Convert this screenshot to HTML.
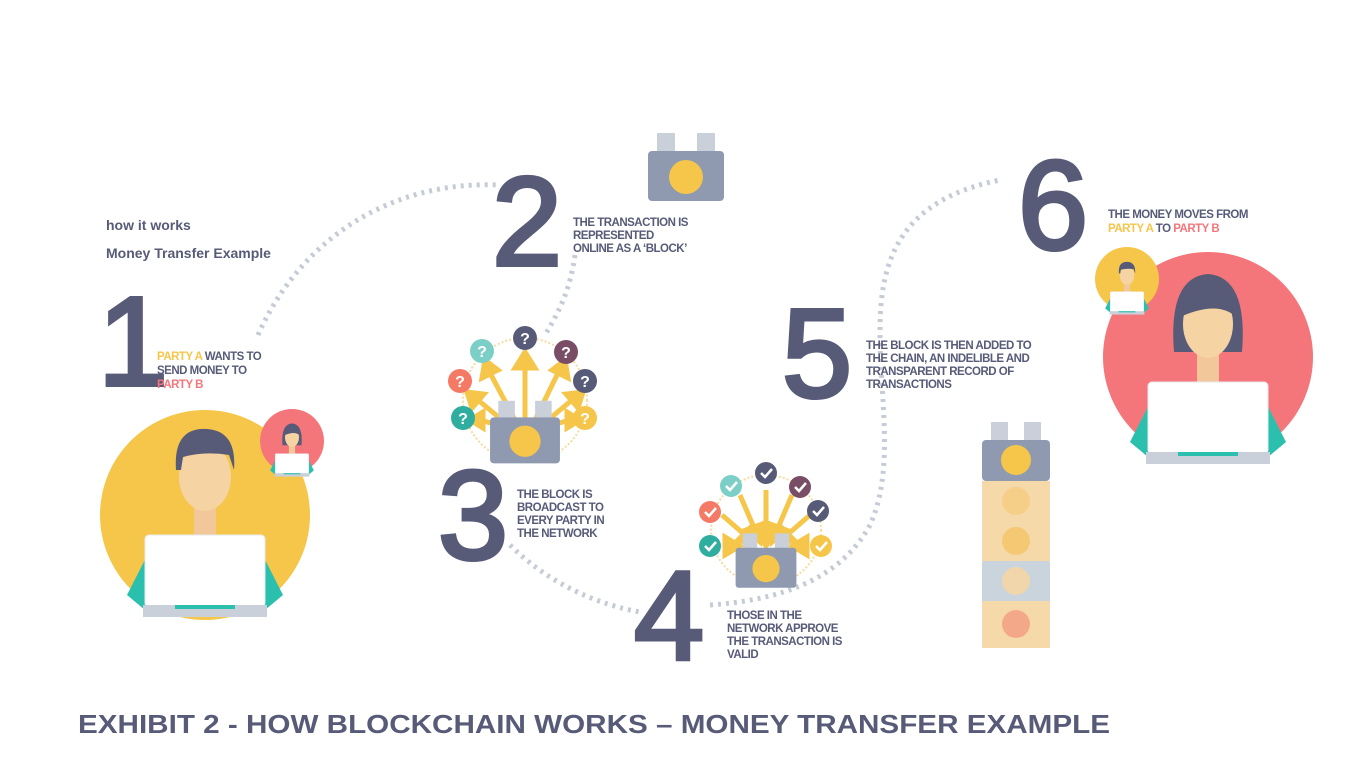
<!DOCTYPE html>
<html><head><meta charset="utf-8"><style>
html,body{margin:0;padding:0;background:#fff;}
svg{display:block;font-family:"Liberation Sans",sans-serif;}
.num{font-size:126px;fill:#575b78;stroke:#575b78;stroke-width:4;}
.st{font-size:11.5px;font-weight:bold;fill:#575b78;letter-spacing:-0.5px;}
.y{fill:#f6c64a}.c{fill:#f5767a}
</style></head><body>
<svg width="1362" height="782" viewBox="0 0 1362 782">
<defs>
<g id="man">
 <path d="M-78,80 L-50,25 L50,25 L78,80 L60,95 L-60,95Z" fill="#2bbfae"/>
 <path d="M-14,20 L14,20 L8,40 L-8,40Z" fill="#fff"/>
 <rect x="-11" y="-10" width="22" height="30" fill="#f2c79a"/>
 <ellipse cx="0" cy="-38" rx="26" ry="34" fill="#f5d3a3"/>
 <path d="M-29,-45 Q-32,-88 2,-86 Q32,-84 29,-45 L24,-60 Q0,-64 -22,-58 L-24,-45Z" fill="#575b78"/>
 <rect x="-60" y="20" width="120" height="72" rx="4" fill="#fff" stroke="#e6e9ee"/>
 <rect x="-62" y="90" width="124" height="12" fill="#c9d0da"/>
 <rect x="-30" y="90" width="60" height="4" fill="#2bbfae"/>
</g>
<g id="woman">
 <path d="M-78,80 L-50,25 L50,25 L78,80 L60,95 L-60,95Z" fill="#2bbfae"/>
 <path d="M-34,-10 Q-40,-85 0,-88 Q40,-85 34,-10 Z" fill="#575b78"/>
 <path d="M-14,20 L14,20 L8,40 L-8,40Z" fill="#fff"/>
 <rect x="-11" y="-10" width="22" height="30" fill="#f2c79a"/>
 <ellipse cx="0" cy="-38" rx="25" ry="34" fill="#f5d3a3"/>
 <path d="M-28,-45 Q-26,-78 0,-80 Q28,-78 28,-45 Q10,-62 -28,-45Z" fill="#575b78"/>
 <rect x="-60" y="20" width="120" height="72" rx="4" fill="#fff" stroke="#e6e9ee"/>
 <rect x="-62" y="90" width="124" height="12" fill="#c9d0da"/>
 <rect x="-30" y="90" width="60" height="4" fill="#2bbfae"/>
</g>
<g id="block">
 <rect x="-29" y="-22" width="18" height="22" fill="#c9d0da"/>
 <rect x="11" y="-22" width="18" height="22" fill="#c9d0da"/>
 <rect x="-38" y="-4" width="76" height="50" rx="4" fill="#8f9ab0"/>
 <circle cx="0" cy="22" r="17" fill="#f6c64a"/>
</g>
</defs>

<g fill="none" stroke="#c5ccd6" stroke-width="5" stroke-dasharray="3 5">
 <path d="M258,335 C300,240 390,180 500,185"/>
 <path d="M575,255 C570,290 560,310 545,335"/>
 <path d="M510,545 C550,585 600,605 640,612"/>
 <path d="M710,605 C780,600 840,580 870,525 C895,470 880,400 880,330 C880,260 900,200 1000,180"/>
</g>

<text x="106" y="230" font-size="14" font-weight="bold" fill="#575b78">how it works</text>
<text x="106" y="258" font-size="14" font-weight="bold" fill="#575b78">Money Transfer Example</text>

<text class="num" x="98" y="385">1</text>
<text class="num" x="492" y="265">2</text>
<text class="num" x="438" y="559">3</text>
<text class="num" x="634" y="659">4</text>
<text class="num" x="782" y="397">5</text>
<text class="num" x="1018" y="249">6</text>

<text class="st"><tspan x="157" y="360"><tspan class="y">PARTY A</tspan> WANTS TO</tspan><tspan x="157" y="374">SEND MONEY TO</tspan><tspan x="157" y="388" class="c">PARTY B</tspan></text>
<text class="st"><tspan x="573" y="226">THE TRANSACTION IS</tspan><tspan x="573" y="239">REPRESENTED</tspan><tspan x="573" y="252">ONLINE AS A ‘BLOCK’</tspan></text>
<text class="st"><tspan x="517" y="498">THE BLOCK IS</tspan><tspan x="517" y="511">BROADCAST TO</tspan><tspan x="517" y="524">EVERY PARTY IN</tspan><tspan x="517" y="537">THE NETWORK</tspan></text>
<text class="st"><tspan x="727" y="619">THOSE IN THE</tspan><tspan x="727" y="632">NETWORK APPROVE</tspan><tspan x="727" y="645">THE TRANSACTION IS</tspan><tspan x="727" y="658">VALID</tspan></text>
<text class="st"><tspan x="866" y="349">THE BLOCK IS THEN ADDED TO</tspan><tspan x="866" y="362">THE CHAIN, AN INDELIBLE AND</tspan><tspan x="866" y="375">TRANSPARENT RECORD OF</tspan><tspan x="866" y="388">TRANSACTIONS</tspan></text>
<text class="st"><tspan x="1108" y="218">THE MONEY MOVES FROM</tspan><tspan x="1108" y="232"><tspan class="y">PARTY A</tspan> TO <tspan class="c">PARTY B</tspan></tspan></text>

<g>
 <circle cx="205" cy="515" r="105" fill="#f6c64a"/>
 <use href="#man" transform="translate(205,515)"/>
 <circle cx="292" cy="441" r="32" fill="#f5767a"/>
 <use href="#woman" transform="translate(292,448) scale(0.28)"/>
</g>
<g>
 <circle cx="1208" cy="357" r="105" fill="#f5767a"/>
 <use href="#woman" transform="translate(1208,362)"/>
 <circle cx="1127" cy="279" r="32" fill="#f6c64a"/>
 <use href="#man" transform="translate(1127,286) scale(0.28)"/>
</g>

<use href="#block" transform="translate(686,155)"/>

<g>
 <circle cx="525" cy="400" r="62" fill="none" stroke="#f6dca0" stroke-width="2" stroke-dasharray="2 2"/>
 <g stroke="#f6c64a" stroke-width="5" fill="#f6c64a">
  <line x1="525" y1="420" x2="525" y2="365"/><polygon points="515,368 535,368 525,352"/>
  <line x1="515" y1="420" x2="490" y2="373"/><polygon points="482,378 498,370 485,360"/>
  <line x1="535" y1="420" x2="558" y2="373"/><polygon points="552,370 568,378 565,360"/>
  <line x1="508" y1="425" x2="478" y2="400"/><polygon points="472,408 484,394 467,392"/>
  <line x1="542" y1="425" x2="572" y2="400"/><polygon points="566,394 578,408 583,392"/>
  <line x1="498" y1="425" x2="480" y2="420"/><polygon points="483,412 483,428 470,420"/>
  <line x1="552" y1="425" x2="570" y2="420"/><polygon points="567,412 567,428 580,420"/>
 </g>
 <use href="#block" transform="translate(525,421) scale(0.92)"/>
 <g font-size="16" font-weight="bold" fill="#fff" text-anchor="middle">
  <circle cx="482" cy="351" r="12" fill="#7ccfc6"/><text x="482" y="357">?</text>
  <circle cx="525" cy="338" r="12" fill="#575b78"/><text x="525" y="344">?</text>
  <circle cx="566" cy="352" r="12" fill="#7a4d66"/><text x="566" y="358">?</text>
  <circle cx="460" cy="381" r="12" fill="#f57a66"/><text x="460" y="387">?</text>
  <circle cx="585" cy="381" r="12" fill="#575b78"/><text x="585" y="387">?</text>
  <circle cx="463" cy="418" r="12" fill="#2fae9f"/><text x="463" y="424">?</text>
  <circle cx="585" cy="418" r="12" fill="#f6c64a"/><text x="585" y="424">?</text>
 </g>
</g>

<g>
 <circle cx="766" cy="530" r="55" fill="none" stroke="#f6dca0" stroke-width="2" stroke-dasharray="2 2"/>
 <g stroke="#f6c64a" stroke-width="5" fill="#f6c64a">
  <line x1="766" y1="490" x2="766" y2="535"/><polygon points="757,532 775,532 766,546"/>
  <line x1="740" y1="495" x2="755" y2="530"/><polygon points="746,530 762,524 760,542"/>
  <line x1="792" y1="495" x2="777" y2="530"/><polygon points="770,524 786,530 772,542"/>
  <line x1="722" y1="515" x2="745" y2="535"/><polygon points="738,540 750,528 754,545"/>
  <line x1="810" y1="515" x2="787" y2="535"/><polygon points="782,528 794,540 778,545"/>
  <polygon points="725,537 725,555 740,546"/><polygon points="807,537 807,555 792,546"/>
 </g>
 <use href="#block" transform="translate(766,551) scale(0.8)"/>
 <g stroke="#fff" stroke-width="2.5" fill="none">
  <circle cx="710" cy="512" r="11" fill="#f57a66" stroke="none"/><path d="M705,512 l4,4 l7,-8"/>
  <circle cx="731" cy="486" r="11" fill="#7ccfc6" stroke="none"/><path d="M726,486 l4,4 l7,-8"/>
  <circle cx="766" cy="473" r="11" fill="#575b78" stroke="none"/><path d="M761,473 l4,4 l7,-8"/>
  <circle cx="800" cy="487" r="11" fill="#7a4d66" stroke="none"/><path d="M795,487 l4,4 l7,-8"/>
  <circle cx="818" cy="511" r="11" fill="#575b78" stroke="none"/><path d="M813,511 l4,4 l7,-8"/>
  <circle cx="710" cy="546" r="11" fill="#2fae9f" stroke="none"/><path d="M705,546 l4,4 l7,-8"/>
  <circle cx="821" cy="546" r="11" fill="#f6c64a" stroke="none"/><path d="M816,546 l4,4 l7,-8"/>
 </g>
</g>

<g>
 <rect x="991" y="422" width="17" height="20" fill="#c9d0da"/>
 <rect x="1024" y="422" width="17" height="20" fill="#c9d0da"/>
 <rect x="982" y="440" width="68" height="41" rx="4" fill="#8f9ab0"/>
 <circle cx="1016" cy="460" r="15" fill="#f6c64a"/>
 <rect x="982" y="481" width="68" height="40" fill="#f5d9a8"/><circle cx="1016" cy="501" r="14" fill="#f5cf88"/>
 <rect x="982" y="521" width="68" height="40" fill="#f5d9a8"/><circle cx="1016" cy="541" r="14" fill="#f5c874"/>
 <rect x="982" y="561" width="68" height="40" fill="#c9d4dc"/><circle cx="1016" cy="581" r="14" fill="#f0d6aa"/>
 <rect x="982" y="601" width="68" height="47" fill="#f5d9a8"/><circle cx="1016" cy="624" r="14" fill="#f4a88a"/>
</g>

<text x="78" y="733" font-size="26" font-weight="bold" fill="#575b78" textLength="1032" lengthAdjust="spacingAndGlyphs">EXHIBIT 2 - HOW BLOCKCHAIN WORKS – MONEY TRANSFER EXAMPLE</text>
</svg>
</body></html>
